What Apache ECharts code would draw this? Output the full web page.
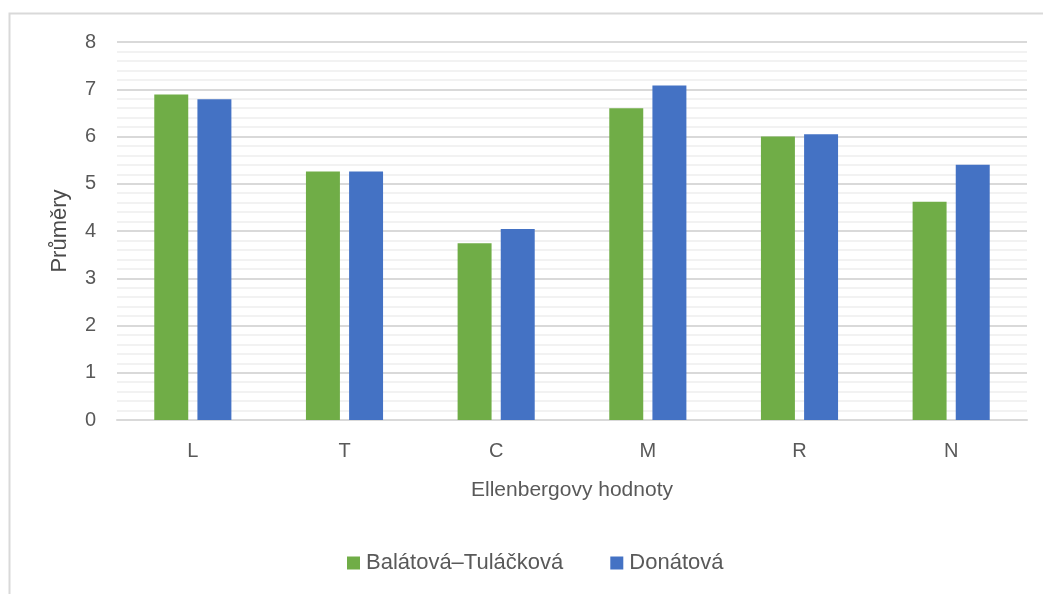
<!DOCTYPE html>
<html>
<head>
<meta charset="utf-8">
<script src="https://cdn.jsdelivr.net/npm/echarts@6/dist/echarts.min.js"></script>
<style>
  html, body { margin: 0; padding: 0; background: #fff; }
  #chart { width: 1043px; height: 594px; }
</style>
</head>
<body>
<div id="chart"></div>
<script>
// Ellenberg indicator values: mean per variable for two data sources
const categories = ['L', 'T', 'C', 'M', 'R', 'N'];
const balatovaTulackova = [6.89, 5.26, 3.74, 6.60, 6.00, 4.62];
const donatova = [6.79, 5.26, 4.04, 7.08, 6.05, 5.40];
const seriesNames = ['Balátová–Tuláčková', 'Donátová'];
const yTicks = { min: 0, max: 8, step: 1 };

const FONT = '"Liberation Sans", Arial, sans-serif';
const TEXT = '#595959';

const chart = echarts.init(document.getElementById('chart'), null, { renderer: 'canvas' });

chart.setOption({
  animation: false,
  backgroundColor: '#ffffff',
  textStyle: { fontFamily: FONT },
  graphic: [{
    type: 'rect',
    silent: true,
    shape: { x: 9.5, y: 13.5, width: 1100, height: 700 },
    style: { fill: 'none', stroke: '#d9d9d9', lineWidth: 2 }
  }],
  grid: { left: 117, right: 16, top: 42, bottom: 174, containLabel: false },
  legend: {
    left: 342,
    top: 547,
    icon: 'rect',
    itemWidth: 13,
    itemHeight: 13,
    itemGap: 47,
    textStyle: { color: TEXT, fontSize: 22, fontFamily: FONT, padding: [0, 0, 0, 1] },
    data: seriesNames
  },
  xAxis: {
    type: 'category',
    data: categories,
    name: 'Ellenbergovy hodnoty',
    nameLocation: 'middle',
    nameGap: 60,
    nameTextStyle: { color: TEXT, fontSize: 21, fontFamily: FONT },
    axisLine: { show: true, lineStyle: { color: '#d9d9d9', width: 2 } },
    axisTick: { show: false },
    axisLabel: { color: TEXT, fontSize: 20, margin: 21, fontFamily: FONT },
    splitLine: { show: false }
  },
  yAxis: {
    type: 'value',
    min: yTicks.min,
    max: yTicks.max,
    interval: yTicks.step,
    name: 'Průměry',
    nameLocation: 'middle',
    nameGap: 46,
    nameTextStyle: { color: '#4a4a4a', fontSize: 22, fontFamily: FONT },
    axisLine: { show: false },
    axisTick: { show: false },
    axisLabel: { color: TEXT, fontSize: 20, margin: 21, fontFamily: FONT },
    splitLine: { show: true, lineStyle: { color: '#d9d9d9', width: 2 } },
    minorTick: { show: false, splitNumber: 5 },
    minorSplitLine: { show: true, lineStyle: { color: '#f2f2f2', width: 2 } }
  },
  series: [
    {
      name: seriesNames[0],
      type: 'bar',
      data: balatovaTulackova,
      barWidth: '22.4%',
      barGap: '27%',
      itemStyle: { color: '#70ad47' }
    },
    {
      name: seriesNames[1],
      type: 'bar',
      data: donatova,
      barWidth: '22.4%',
      barGap: '27%',
      itemStyle: { color: '#4472c4' }
    }
  ]
});
</script>
</body>
</html>
